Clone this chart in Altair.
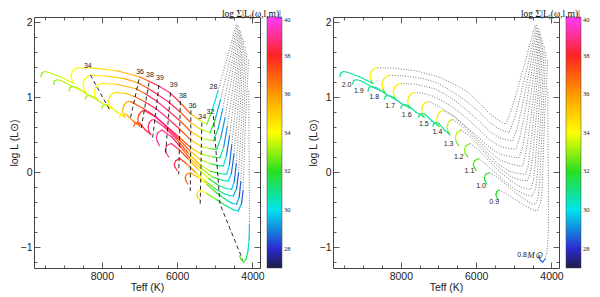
import altair as alt
import pandas as pd

# ---------------- data ----------------
# each track point: (Teff, logL, value shown in left panel, value shown in right panel)
# None = drawn as the black dotted part of the track
t20 = [(9620,1.27,33,31),(9590,1.32,33,31),(9520,1.34,33,31),(9420,1.33,33.2,31),
       (9100,1.27,33.5,30.5),(8740,1.18,34,31),
       (8800,1.23,34,34),(8820,1.29,34,34.5),(8780,1.345,34,34.5),(8700,1.38,34,34.5),(8620,1.39,34,34),
       (8200,1.385,34.2,None),(7600,1.35,35,None),(7000,1.27,36,None),(6750,1.21,37.8,None),(6500,1.15,38.9,None),
       (6200,1.06,39,None),(5950,0.94,38.2,None),(5650,0.78,36,None),(5400,0.69,34.3,None),(5212,0.635,33.2,None),
       (5070,0.82,32,None),(4915,1.08,28,None),
       (4680,1.5,None,None),(4430,1.97,None,None)]
t19 = [(9280,1.17,33,31),(9250,1.22,33,31),(9180,1.23,33,31),(9080,1.22,33.2,31),
       (8750,1.13,33.5,30.5),(8420,1.06,34,31),
       (8480,1.11,34,34),(8500,1.17,34,34.5),(8460,1.235,34.1,34.5),(8380,1.275,34.1,34.5),(8300,1.29,34.1,34),
       (7900,1.28,34.6,None),(7400,1.245,35.4,None),(7050,1.19,36,None),(6790,1.12,37.8,None),(6510,1.03,38.9,None),
       (6220,0.93,39,None),(5940,0.81,38.2,None),(5640,0.66,36,None),(5380,0.57,34.2,None),(5124,0.524,32.6,None),
       (4990,0.70,31,None),(4850,0.96,28,None),
       (4620,1.45,None,None),(4400,1.96,None,None)]
t18 = [(8870,1.08,33,31),(8840,1.13,33,31),(8770,1.14,33,31),(8670,1.13,33.2,31),
       (8400,1.04,33.5,30.5),(8120,0.96,34,31),
       (8180,1.01,34,34),(8200,1.07,34,34.5),(8160,1.13,34.1,34.5),(8080,1.17,34.2,34.5),(8000,1.18,34.3,34),
       (7600,1.17,34.9,None),(7100,1.11,36,None),(6830,1.04,37.8,None),(6530,0.94,38.9,None),(6240,0.82,39,None),
       (5940,0.69,38.2,None),(5640,0.54,36,None),(5360,0.45,34.1,None),(5036,0.413,32.3,None),
       (4910,0.58,30.6,None),(4790,0.84,28,None),
       (4570,1.4,None,None),(4375,1.94,None,None)]
t17 = [(8440,0.97,33,31),(8410,1.01,33,31),(8340,1.02,33,31),(8250,1.01,33.2,31),
       (8000,0.92,33.6,30.5),(7750,0.85,34,31),
       (7800,0.89,34,34),(7820,0.95,34.1,34.5),(7780,1.01,34.3,34.5),(7710,1.05,34.4,34.5),(7640,1.06,34.5,34),
       (7380,1.05,35.2,None),(7150,1.01,36,None),(6870,0.94,37.8,None),(6550,0.84,38.9,None),(6260,0.72,39,None),
       (5950,0.58,38.2,None),(5645,0.43,36,None),(5360,0.34,34,None),(5100,0.31,32.4,None),(4949,0.302,31.6,None),
       (4840,0.46,30.2,None),(4730,0.72,28,None),
       (4520,1.35,None,None),(4350,1.92,None,None)]
t16 = [(8000,0.85,33,31),(7970,0.89,33,31),(7900,0.9,33.2,31),(7810,0.89,33.5,31),
       (7600,0.8,34,30.5),(7380,0.73,35,31),
       (7430,0.77,35,34),(7450,0.83,35.2,34.5),(7410,0.89,35.4,34.5),(7340,0.93,35.6,34.5),(7280,0.94,35.8,34),
       (7220,0.935,36,None),(6910,0.85,37.8,None),(6570,0.74,38.9,None),(6280,0.61,39,None),(5960,0.47,38.2,None),
       (5650,0.33,36,None),(5370,0.24,34.1,None),(5050,0.2,32.2,None),(4861,0.19,31.3,None),
       (4760,0.34,30,None),(4670,0.6,28,None),
       (4470,1.3,None,None),(4330,1.9,None,None)]
t15 = [(7530,0.73,34,31),(7500,0.77,34.2,31),(7440,0.78,34.5,31),(7360,0.77,35.3,31),
       (7170,0.68,36.3,30.5),(6990,0.61,37,31),
       (7030,0.65,37,34),(7045,0.71,37.2,34.5),(7010,0.77,37.4,34.5),(6940,0.81,37.8,34.5),(6880,0.82,38,34),
       (6590,0.74,38.9,None),(6300,0.61,39,None),(5980,0.45,38.2,None),(5660,0.28,36,None),(5370,0.16,34.1,None),
       (5100,0.11,32.5,None),(4900,0.085,31.2,None),(4773,0.079,30.6,None),
       (4690,0.22,29.6,None),(4610,0.48,28,None),
       (4420,1.25,None,None),(4310,1.87,None,None)]
t14 = [(7150,0.61,37,31),(7120,0.65,37,31),(7060,0.66,37.3,31),(6990,0.65,37.8,31),
       (6840,0.56,38.3,30.5),(6700,0.5,38.6,31),
       (6750,0.54,38.6,33),(6770,0.6,38.7,33.5),(6740,0.66,38.8,33.5),(6680,0.69,38.9,33.5),(6620,0.7,39,33),
       (6340,0.6,39,None),(6020,0.44,38.4,None),(5700,0.25,36.3,None),(5400,0.1,34.3,None),(5120,0.01,32.6,None),
       (4880,-0.02,31.1,None),(4685,-0.032,30.3,None),
       (4610,0.1,29.4,None),(4550,0.36,28,None),
       (4380,1.2,None,None),(4285,1.84,None,None)]
t13 = [(6470,0.35,39,32),(6530,0.41,39,33),(6550,0.46,39,33.5),(6520,0.52,39,33.5),(6400,0.56,39,33),
       (6150,0.47,39,None),(5900,0.33,38.2,None),(5650,0.18,36,None),(5350,0.04,34,None),(5050,-0.07,32.3,None),
       (4800,-0.11,30.9,None),(4642,-0.121,30.2,None),(4560,-0.02,29.4,None),(4490,0.24,28,None),
       (4340,1.12,None,None),(4260,1.8,None,None)]
t12 = [(6220,0.2,39,32),(6290,0.25,39,32.5),(6310,0.3,39,33),(6280,0.35,39,33),(6160,0.38,39,32.5),
       (5950,0.3,38.3,None),(5700,0.17,36.4,None),(5450,0.04,34.6,None),(5150,-0.09,32.7,None),(4900,-0.18,31.2,None),
       (4700,-0.22,30.4,None),(4554,-0.232,30,None),(4480,-0.12,29.3,None),(4430,0.11,28,None),
       (4300,1.05,None,None),(4230,1.75,None,None)]
t11 = [(6000,0.02,38.4,32),(6060,0.07,38.5,32),(6075,0.1,38.5,32.5),(6040,0.15,38.5,32.5),(5930,0.18,38.2,32),
       (5750,0.11,37.2,None),(5500,-0.01,35.1,None),(5250,-0.12,33.5,None),(5000,-0.22,31.9,None),(4750,-0.29,30.7,None),
       (4600,-0.315,30.1,None),(4510,-0.32,29.7,None),(4420,-0.22,29,None),(4370,-0.01,28,None),
       (4260,0.95,None,None),(4190,1.68,None,None)]
t10 = [(5720,-0.16,37,31.5),(5770,-0.11,37,31.5),(5785,-0.075,37,32),(5750,-0.03,36.8,32),(5640,-0.01,36.2,31.5),
       (5450,-0.07,35,None),(5200,-0.17,33.3,None),(4950,-0.28,31.7,None),(4700,-0.37,30.6,None),(4550,-0.415,30.1,None),
       (4422,-0.43,29.7,None),(4350,-0.33,29,None),(4310,-0.13,28,None),
       (4220,0.85,None,None),(4150,1.6,None,None)]
t09 = [(5410,-0.37,34.8,31.5),(5460,-0.33,35,31.5),(5475,-0.3,35,32),(5450,-0.26,34.8,32),(5390,-0.24,34.5,31.5),
       (5200,-0.29,33.4,None),(4950,-0.37,32.1,None),(4700,-0.45,31.1,None),(4500,-0.505,30.4,None),(4378,-0.52,29.9,None),
       (4290,-0.42,29,None),(4250,-0.25,28,None),
       (4180,0.75,None,None),(4100,1.5,None,None)]
t08 = [(4340,-1.12,32.5,28.5),(4290,-1.18,32.4,28.5),(4230,-1.2,32.2,28.5),(4170,-1.16,31.8,28.8),
       (4120,-1.06,31,None),(4090,-0.9,30,None),(4080,-0.7,29.3,None),
       (4080,-0.3,None,None),(4090,0.3,None,None),(4097,1.1,None,None)]

tracks = [("2.0", t20), ("1.9", t19), ("1.8", t18), ("1.7", t17), ("1.6", t16), ("1.5", t15),
          ("1.4", t14), ("1.3", t13), ("1.2", t12), ("1.1", t11), ("1.0", t10), ("0.9", t09), ("0.8", t08)]

# dashed iso-contours of the left panel and their labels
contours = {
    "34a": [(8300, 1.293), (7800, 0.835)],
    "36a": [(7010, 1.235), (7247, 0.702)],
    "38a": [(6747, 1.19), (6967, 0.546)],
    "39a": [(6484, 1.16), (6660, 0.413)],
    "39b": [(6177, 1.057), (6309, 0.235)],
    "38b": [(5914, 0.946), (5958, -0.032)],
    "36b": [(5634, 0.822), (5651, -0.254)],
    "34b": [(5344, 0.657), (5388, -0.432)],
    "32":  [(5037, 0.746), (4862, -0.43), (4560, -0.8), (4260, -1.17)],
}
contour_label_T = [8370, 6984, 6721, 6458, 6090, 5850, 5590, 5335, 5115, 5036]
contour_label_L = [1.41, 1.337, 1.293, 1.257, 1.16, 1.02, 0.885, 0.74, 0.80, 1.135]
contour_label_txt = ["34", "36", "38", "39", "39", "38", "36", "34", "32", "28"]

mass_label_T = [9440, 9115, 8703, 8282, 7844, 7388, 7028, 6730, 6458, 6177, 5870, 5520, 4780]
mass_label_L = [1.16, 1.08, 1.00, 0.88, 0.76, 0.644, 0.53, 0.377, 0.204, 0.008, -0.18, -0.396, -1.11]
mass_label_txt = ["2.0", "1.9", "1.8", "1.7", "1.6", "1.5", "1.4", "1.3", "1.2", "1.1", "1.0", "0.9", "0.8"]

X_MAJOR = [4000, 6000, 8000]
X_MINOR = [4500, 5000, 5500, 6500, 7000, 7500, 8500, 9000, 9500]
Y_MAJOR = [-1, 0, 1, 2]
Y_MINOR = [-1.2, -0.8, -0.6, -0.4, -0.2, 0.2, 0.4, 0.6, 0.8, 1.2, 1.4, 1.6, 1.8]
CBAR_TICKS = [28, 30, 32, 34, 36, 38, 40]
CBAR_DOMAIN = [27, 28, 30, 32, 34, 36, 38, 40]
CBAR_COLORS = ["#1c1c44", "#2a2ad0", "#00e4ec", "#28e020", "#ffff00", "#ff9a00", "#ff2222", "#ff3cff"]

SANS = "Liberation Sans"
SERIF = "Liberation Serif"
PLOT_W, PLOT_H = 226, 251


def build(idx):
    seg, dot = [], []
    for name, pts in tracks:
        vals = [p[idx] for p in pts]
        last = max(i for i, v in enumerate(vals) if v is not None)
        for i in range(last):
            a, b = pts[i], pts[i + 1]
            seg.append(dict(track=name, T=a[0], L=a[1], T2=b[0], L2=b[1],
                            v=(vals[i] + vals[i + 1]) / 2))
        for j, p in enumerate(pts[last:]):
            dot.append(dict(track=name, i=j, T=p[0], L=p[1]))
    return pd.DataFrame(seg), pd.DataFrame(dot)


xs = alt.Scale(domain=[3800, 9800], reverse=True, nice=False, zero=False)
ys = alt.Scale(domain=[-1.28, 2.067], nice=False, zero=False)
cs = alt.Scale(domain=CBAR_DOMAIN, range=CBAR_COLORS, interpolate="rgb")


def tick_axis(orient, values, size):
    return alt.Axis(orient=orient, values=values, labels=False, ticks=True, tickSize=size,
                    tickWidth=0.8, tickColor="#333", offset=-size, domain=False, grid=False, title=None)


x_lab = alt.Axis(orient="bottom", values=X_MAJOR, ticks=False, domain=False, grid=False, format="d",
                 labelFontSize=10.5, labelFont=SANS, labelColor="#222", labelPadding=3,
                 title="Teff  (K)", titleFontSize=10.5, titleFont=SANS, titleFontWeight="normal",
                 titleColor="#222", titlePadding=1)
y_lab = alt.Axis(orient="left", values=Y_MAJOR, ticks=False, domain=False, grid=False, format="d",
                 labelFontSize=10.5, labelFont=SANS, labelColor="#222", labelPadding=2,
                 title="log L (L⊙)", titleFontSize=10.5, titleFont=SANS, titleFontWeight="normal",
                 titleColor="#222", titlePadding=1)


def panel(idx, title_text):
    seg, dot = build(idx)
    layers = []
    layers.append(alt.Chart(dot).mark_line(strokeDash=[0.9, 1.7], strokeWidth=0.8, color="#444").encode(
        x=alt.X("T:Q", scale=xs, axis=x_lab), y=alt.Y("L:Q", scale=ys, axis=y_lab),
        detail="track:N", order="i:Q"))
    leg = alt.Legend(title=None, orient="right", offset=6, padding=0, gradientLength=PLOT_H,
                     gradientThickness=15, values=CBAR_TICKS, labelFontSize=6.5, labelFont=SERIF,
                     labelColor="#222", labelOffset=2, gradientStrokeColor="#444",
                     gradientStrokeWidth=0.5, direction="vertical")
    layers.append(alt.Chart(seg).mark_rule(strokeWidth=1.2, strokeCap="round").encode(
        x=alt.X("T:Q", scale=xs, axis=tick_axis("bottom", X_MAJOR, 6)),
        y=alt.Y("L:Q", scale=ys, axis=tick_axis("left", Y_MAJOR, 6)),
        x2="T2:Q", y2="L2:Q",
        color=alt.Color("v:Q", scale=cs, legend=leg)))
    for xo, yo, xv, yv, sz in [("bottom", "left", X_MINOR, Y_MINOR, 3),
                               ("top", "right", X_MAJOR, Y_MAJOR, 6),
                               ("top", "right", X_MINOR, Y_MINOR, 3)]:
        layers.append(alt.Chart(dot).mark_point(opacity=0, size=1).encode(
            x=alt.X("T:Q", scale=xs, axis=tick_axis(xo, xv, sz)),
            y=alt.Y("L:Q", scale=ys, axis=tick_axis(yo, yv, sz))))
    if idx == 2:
        rows = []
        for name, pts in contours.items():
            for j, (T, L) in enumerate(pts):
                rows.append(dict(c=name, i=j, T=T, L=L))
        cdf = pd.DataFrame(rows)
        layers.append(alt.Chart(cdf).mark_line(strokeDash=[4, 3], strokeWidth=0.9, color="#111").encode(
            x=alt.X("T:Q", scale=xs, axis=None), y=alt.Y("L:Q", scale=ys, axis=None),
            detail="c:N", order="i:Q"))
        ldf = pd.DataFrame(dict(T=contour_label_T, L=contour_label_L, txt=contour_label_txt))
        layers.append(alt.Chart(ldf).mark_text(fontSize=7, font=SANS, color="#222").encode(
            x=alt.X("T:Q", scale=xs, axis=None), y=alt.Y("L:Q", scale=ys, axis=None), text="txt:N"))
    else:
        mdf = pd.DataFrame(dict(T=mass_label_T, L=mass_label_L, txt=mass_label_txt))
        layers.append(alt.Chart(mdf).mark_text(fontSize=7, font=SANS, color="#222").encode(
            x=alt.X("T:Q", scale=xs, axis=None), y=alt.Y("L:Q", scale=ys, axis=None), text="txt:N"))
        sdf = pd.DataFrame(dict(T=[4440], L=[-1.1], txt=["M⊙"]))
        layers.append(alt.Chart(sdf).mark_text(fontSize=9, font=SERIF, fontStyle="italic", color="#222").encode(
            x=alt.X("T:Q", scale=xs, axis=None), y=alt.Y("L:Q", scale=ys, axis=None), text="txt:N"))
    return alt.layer(*layers).resolve_axis(x="independent", y="independent").properties(
        width=PLOT_W, height=PLOT_H,
        title=alt.TitleParams(text=title_text, anchor="end", frame="bounds", fontSize=9.5, font=SERIF,
                              fontWeight="normal", color="#111", offset=-2, dx=-10))


left = panel(2, "log Σ|Lⱼ(ω,l,m)|")
right = panel(3, "log Σ|Lⱼ(ω,l,m)|")

chart = alt.hconcat(left, right, spacing=15).resolve_scale(color="independent").resolve_legend(
    color="independent").configure_view(stroke="#444", strokeWidth=1).properties(padding=0)

chart.save("out.html", embed_options={"renderer": "svg", "actions": False})
